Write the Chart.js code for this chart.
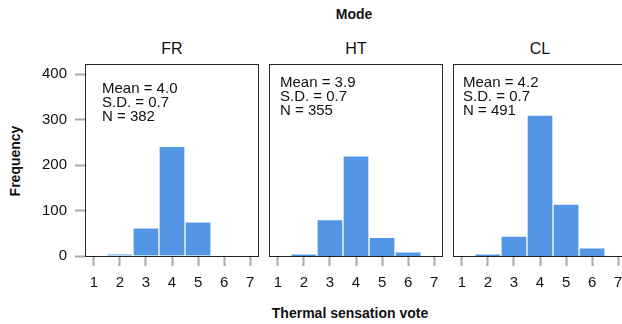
<!DOCTYPE html>
<html>
<head>
<meta charset="utf-8">
<script src="https://cdn.jsdelivr.net/npm/chart.js@4.4.1/dist/chart.umd.min.js"></script>
<style>
  html, body { margin: 0; padding: 0; background: #fff; }
  body { width: 622px; height: 324px; position: relative; overflow: hidden; font-family: "Liberation Sans", Arial, sans-serif; color: #111; }
  canvas { position: absolute; }
  .lbl { position: absolute; white-space: nowrap; transform: translate(-50%, -50%); }
  .bold { font-weight: bold; font-size: 14px; }
  .strip { font-size: 16px; }
</style>
</head>
<body>
<div class="lbl bold" style="left:354px; top:14px;">Mode</div>
<div class="lbl bold" style="left:350px; top:313px;">Thermal sensation vote</div>
<div class="lbl bold" style="left:15px; top:161px; transform: translate(-50%, -50%) rotate(-90deg);">Frequency</div>
<div class="lbl strip" style="left:172px; top:49px;">FR</div>
<div class="lbl strip" style="left:356px; top:49px;">HT</div>
<div class="lbl strip" style="left:540px; top:49px;">CL</div>

<canvas id="chartFR" width="260" height="234" style="left:0px; top:62px; width:260px; height:234px;"></canvas>
<canvas id="chartHT" width="176" height="234" style="left:268px; top:62px; width:176px; height:234px;"></canvas>
<canvas id="chartCL" width="176" height="234" style="left:452px; top:62px; width:176px; height:234px;"></canvas>

<script>
// Data
const modes = ['FR', 'HT', 'CL'];
const votes = [1, 2, 3, 4, 5, 6, 7];
const frCounts = [0, 4, 62, 241, 75, 0, 0];
const htCounts = [0, 5, 80, 220, 41, 9, 0];
const clCounts = [0, 5, 44, 310, 114, 18, 0];
const meanLabels = ['4.0', '3.9', '4.2'];
const sdLabels = ['0.7', '0.7', '0.7'];
const nLabels = ['382', '355', '491'];
const yTicks = [0, 100, 200, 300, 400];
const xTicks = [1, 2, 3, 4, 5, 6, 7];

const barColor = 'rgb(84, 150, 230)';
const tickGray = '#aaaaaa';
const fontFamily = '"Liberation Sans", Arial, sans-serif';

// Frame around each panel
const framePlugin = {
    id: 'frame',
    afterDraw(chart) {
        const a = chart.chartArea;
        const ctx = chart.ctx;
        ctx.save();
        ctx.strokeStyle = '#222';
        ctx.lineWidth = 1;
        ctx.strokeRect(a.left + 0.5, a.top + 0.5, a.right - a.left - 1, a.bottom - a.top);
        ctx.restore();
    }
};

// Mean / S.D. / N text
const statsPlugin = {
    id: 'stats',
    afterDraw(chart, args, opts) {
        const a = chart.chartArea;
        const ctx = chart.ctx;
        const lines = ['Mean = ' + opts.mean, 'S.D. = ' + opts.sd, 'N = ' + opts.n];
        ctx.save();
        ctx.fillStyle = '#111';
        ctx.font = '15px ' + fontFamily;
        ctx.textBaseline = 'middle';
        ctx.textAlign = 'left';
        lines.forEach((t, k) => {
            ctx.fillText(t, a.left + opts.dx, a.top + opts.dy + k * 14);
        });
        ctx.restore();
    }
};

function makePanel(id, idx, counts, showY, dx, dy) {
    const ctx = document.getElementById(id).getContext('2d');
    return new Chart(ctx, {
        type: 'bar',
        data: {
            datasets: [{
                label: modes[idx],
                data: votes.map((v, i) => ({ x: v, y: counts[i] })),
                backgroundColor: barColor,
                borderColor: '#ffffff',
                borderWidth: 1,
                borderSkipped: 'bottom',
                barPercentage: 1,
                categoryPercentage: 1
            }]
        },
        options: {
            responsive: false,
            animation: false,
            devicePixelRatio: 1,
            layout: { padding: { top: 2, right: 1, left: showY ? 0 : 1, bottom: 0 }, autoPadding: false },
            plugins: {
                legend: { display: false },
                tooltip: { enabled: false },
                stats: { mean: meanLabels[idx], sd: sdLabels[idx], n: nLabels[idx], dx: dx, dy: dy }
            },
            scales: {
                x: {
                    type: 'linear',
                    min: 0.66,
                    max: 7.34,
                    offset: false,
                    afterBuildTicks: s => { s.ticks = xTicks.map(v => ({ value: v })); },
                    afterFit: s => { s.height = 40; s.paddingLeft = 0; s.paddingRight = 0; },
                    grid: { drawOnChartArea: false, drawTicks: true, tickLength: 10, tickColor: tickGray, tickWidth: 2, offset: false },
                    border: { display: false },
                    ticks: { color: '#111', padding: 8, font: { family: fontFamily, size: 15 }, maxRotation: 0, autoSkip: false }
                },
                y: {
                    display: showY,
                    min: 0,
                    max: 422,
                    afterBuildTicks: s => { s.ticks = yTicks.map(v => ({ value: v })); },
                    afterFit: s => { s.width = showY ? 85 : 0; s.paddingTop = 0; s.paddingBottom = 0; },
                    grid: { drawOnChartArea: false, drawTicks: true, tickLength: 10, tickColor: tickGray, tickWidth: 2 },
                    border: { display: false },
                    ticks: { color: '#111', padding: 8, font: { family: fontFamily, size: 15 } }
                }
            }
        },
        plugins: [framePlugin, statsPlugin]
    });
}

makePanel('chartFR', 0, frCounts, true, 17, 25);
makePanel('chartHT', 1, htCounts, false, 11, 18.5);
makePanel('chartCL', 2, clCounts, false, 10, 18.5);
</script>
</body>
</html>
